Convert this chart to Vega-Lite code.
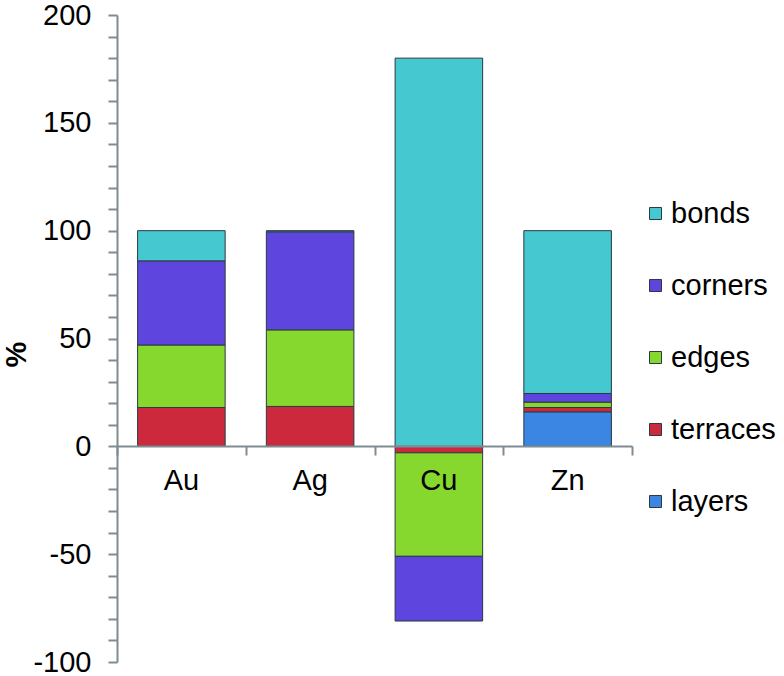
{
  "$schema": "https://vega.github.io/schema/vega-lite/v6.json",
  "width": 515,
  "height": 647,
  "autosize": "none",
  "padding": {"left": 117, "top": 15, "right": 152, "bottom": 14},
  "background": "white",
  "config": {
    "view": {"stroke": null},
    "font": "Liberation Sans",
    "axis": {"grid": false, "labelColor": "black", "domainColor": "#7f8c94", "tickColor": "#7f8c94", "domainWidth": 2, "tickWidth": 2}
  },
  "data": {
    "values": [
      {"metal": "Au", "type": "terraces", "value": 18, "ord": 2},
      {"metal": "Au", "type": "edges", "value": 29, "ord": 3},
      {"metal": "Au", "type": "corners", "value": 39, "ord": 4},
      {"metal": "Au", "type": "bonds", "value": 14, "ord": 5},
      {"metal": "Ag", "type": "terraces", "value": 18.5, "ord": 2},
      {"metal": "Ag", "type": "edges", "value": 35.5, "ord": 3},
      {"metal": "Ag", "type": "corners", "value": 45.5, "ord": 4},
      {"metal": "Ag", "type": "bonds", "value": 0.5, "ord": 5},
      {"metal": "Cu", "type": "terraces", "value": -3, "ord": 2},
      {"metal": "Cu", "type": "edges", "value": -48, "ord": 3},
      {"metal": "Cu", "type": "corners", "value": -30, "ord": 4},
      {"metal": "Cu", "type": "bonds", "value": 180, "ord": 5},
      {"metal": "Zn", "type": "layers", "value": 16, "ord": 1},
      {"metal": "Zn", "type": "terraces", "value": 2, "ord": 2},
      {"metal": "Zn", "type": "edges", "value": 2.5, "ord": 3},
      {"metal": "Zn", "type": "corners", "value": 4, "ord": 4},
      {"metal": "Zn", "type": "bonds", "value": 75.5, "ord": 5}
    ]
  },
  "layer": [
    {
      "mark": {"type": "bar", "stroke": "#2b3a40", "strokeWidth": 1, "width": {"band": 0.68}},
      "encoding": {
        "x": {
          "field": "metal", "type": "nominal", "sort": ["Au", "Ag", "Cu", "Zn"],
          "scale": {"paddingInner": 0, "paddingOuter": 0},
          "axis": {"title": null, "labelAngle": 0, "offset": -216, "domain": true, "ticks": false, "tickSize": 0, "labelFontSize": 29, "labelPadding": 20, "labelBaseline": "top", "zindex": 1}
        },
        "y": {
          "field": "value", "type": "quantitative", "stack": "zero",
          "scale": {"domain": [-100, 200], "nice": false, "zero": false},
          "axis": {
            "title": "%", "titleFontSize": 29, "titleFontWeight": "bold", "titleX": -101, "titleY": 339, "titleBaseline": "middle", "titleAlign": "center", "titleColor": "black",
            "values": [-100,-90,-80,-70,-60,-50,-40,-30,-20,-10,0,10,20,30,40,50,60,70,80,90,100,110,120,130,140,150,160,170,180,190,200],
            "labelExpr": "datum.value % 50 == 0 ? toString(datum.value) : ''",
            "labelOverlap": false, "labelFontSize": 29, "labelPadding": 17, "tickSize": 9
          }
        },
        "color": {
          "field": "type", "type": "nominal",
          "scale": {"domain": ["bonds", "corners", "edges", "terraces", "layers"], "range": ["#45C8D0", "#5E45DE", "#86D82E", "#CC2A3C", "#3A86E2"]},
          "legend": {"title": null, "orient": "none", "legendX": 524, "legendY": 184, "symbolType": "square", "symbolSize": 144, "symbolStrokeColor": "#2b3a40", "symbolStrokeWidth": 1, "labelFontSize": 29, "rowPadding": 42, "labelOffset": 1, "labelColor": "black"}
        },
        "order": {"field": "ord", "type": "quantitative"}
      }
    },
    {
      "mark": {"type": "rule", "opacity": 0},
      "encoding": {
        "x": {
          "datum": 0, "type": "quantitative",
          "scale": {"domain": [0, 4], "nice": false},
          "axis": {"orient": "bottom", "values": [0, 1, 2, 3, 4], "labels": false, "domain": false, "ticks": true, "tickSize": 9, "offset": -216, "title": null, "grid": false}
        }
      }
    }
  ],
  "resolve": {"scale": {"x": "independent"}}
}
